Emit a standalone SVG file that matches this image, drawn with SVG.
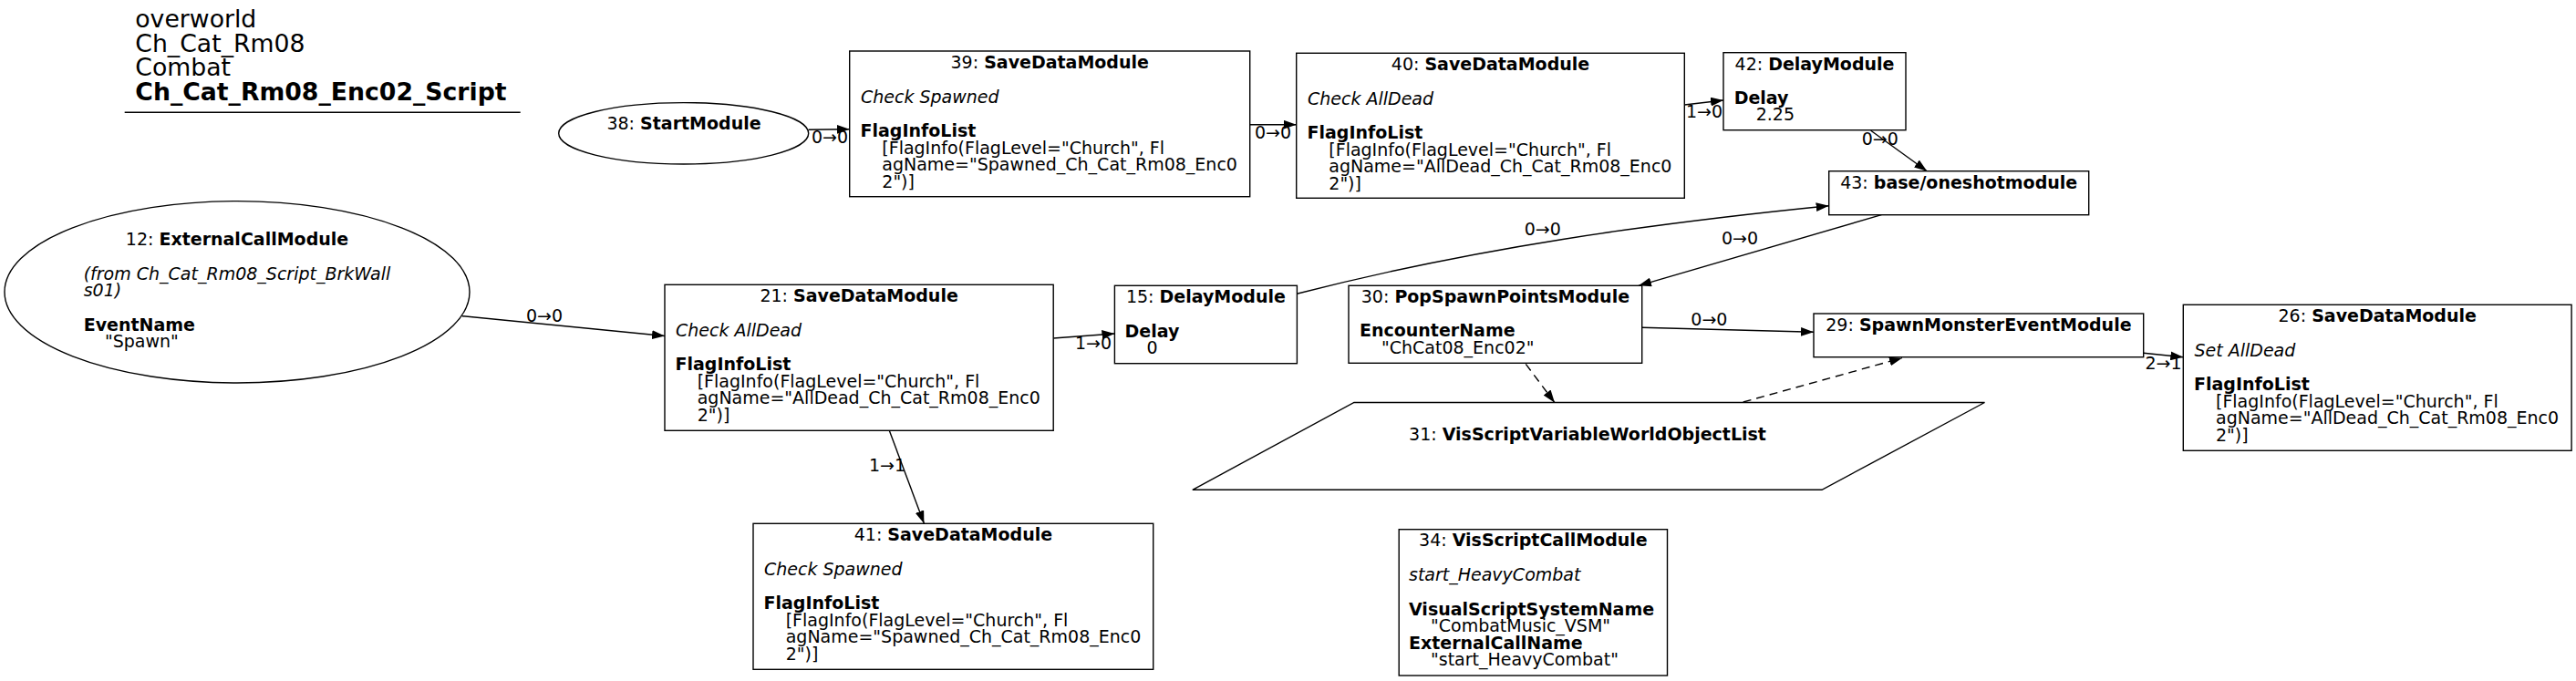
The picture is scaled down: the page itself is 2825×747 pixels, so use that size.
<svg xmlns="http://www.w3.org/2000/svg" width="2825" height="747" viewBox="0 0 2825 747">
<style>
text { font-family: "DejaVu Sans", "Liberation Sans", sans-serif; font-size: 19px; fill: #000; }
.title { font-size: 26.7px; }
.b { font-weight: bold; }
.i { font-style: italic; }
.shape { fill: #fff; stroke: #000; stroke-width: 1.4; }
.edge { fill: none; stroke: #000; stroke-width: 1.4; marker-end: url(#ah); }
.dash { stroke-dasharray: 9,6; }
</style>
<defs>
<marker id="ah" markerUnits="userSpaceOnUse" markerWidth="14" markerHeight="10" viewBox="0 0 13.6 9.6" refX="13.6" refY="4.8" orient="auto">
<path d="M0,0 L13.6,4.8 L0,9.6 z" fill="#000" stroke="none"/>
</marker>
</defs>
<rect x="0" y="0" width="2825" height="747" fill="#fff"/>

<g id="title">
<text class="title" x="148.3" y="30">overworld</text>
<text class="title" x="148.3" y="56.7">Ch_Cat_Rm08</text>
<text class="title" x="148.3" y="83.3">Combat</text>
<text class="title b" x="148.3" y="110">Ch_Cat_Rm08_Enc02_Script</text>
<path d="M136.7,123.3 L570.7,123.3" stroke="#000" stroke-width="1.5"/>
</g>

<g id="connectors">
<path class="edge" d="M886.7,142.3 L931.7,141.7"/>
<text x="890" y="156.7">0→0</text>
<path class="edge" d="M1370.7,136.7 L1421.7,136.7"/>
<text x="1376" y="152.3">0→0</text>
<path class="edge" d="M1847.3,115 L1890,110"/>
<text x="1849" y="128.5">1→0</text>
<path class="edge" d="M2051.7,143.3 L2113.3,187.7"/>
<text x="2041.7" y="159.3">0→0</text>
<path class="edge" d="M1422.2,322.3 C1617,272 1810.7,245.2 2005.7,225.7"/>
<text x="1671.7" y="258.3">0→0</text>
<path class="edge" d="M2063.3,235.7 L1797,313.3"/>
<text x="1888" y="268">0→0</text>
<path class="edge" d="M506.7,346.7 L729,368.5"/>
<text x="577" y="352.7">0→0</text>
<path class="edge" d="M1155.2,371 L1222.4,366"/>
<text x="1179" y="383.3">1→0</text>
<path class="edge" d="M975.3,472.3 L1013.4,574.3"/>
<text x="952.9" y="517.3">1→1</text>
<path class="edge" d="M1800.7,359.3 L1989,364.3"/>
<text x="1854.3" y="356.7">0→0</text>
<path class="edge dash" d="M1673.3,399.3 L1705,441.7"/>
<path class="edge dash" d="M1911.7,441 L2086,392.7"/>
<path class="edge" d="M2350.7,387.3 L2394.3,391.7"/>
<text x="2352.4" y="405">2→1</text>
</g>

<g id="node-38">
<ellipse class="shape" cx="749.7" cy="146.3" rx="137" ry="33.7"/>
<text x="750" y="142.3" text-anchor="middle">38: <tspan class="b">StartModule</tspan></text>
</g>

<g id="node-12">
<ellipse class="shape" cx="260" cy="320.3" rx="255" ry="99.7"/>
<text x="260" y="269" text-anchor="middle">12: <tspan class="b">ExternalCallModule</tspan></text>
<text class="i" x="91.7" y="307.3">(from Ch_Cat_Rm08_Script_BrkWall</text>
<text class="i" x="91.7" y="325.3">s01)</text>
<text class="b" x="91.7" y="362.7">EventName</text>
<text x="115" y="381">"Spawn"</text>
</g>

<g id="node-39">
<rect class="shape" x="931.7" y="56" width="439" height="159.7"/>
<text x="1151.2" y="74.7" text-anchor="middle">39: <tspan class="b">SaveDataModule</tspan></text>
<text class="i" x="944" y="112.7">Check Spawned</text>
<text class="b" x="943.5" y="150">FlagInfoList</text>
<text x="967.3" y="168.5">[FlagInfo(FlagLevel="Church", Fl</text>
<text x="967.3" y="187">agName="Spawned_Ch_Cat_Rm08_Enc0</text>
<text x="967.3" y="205.5">2")]</text>
</g>

<g id="node-40">
<rect class="shape" x="1421.7" y="58.3" width="425.6" height="159"/>
<text x="1634.5" y="77" text-anchor="middle">40: <tspan class="b">SaveDataModule</tspan></text>
<text class="i" x="1434" y="115">Check AllDead</text>
<text class="b" x="1433.5" y="152.3">FlagInfoList</text>
<text x="1457.3" y="170.8">[FlagInfo(FlagLevel="Church", Fl</text>
<text x="1457.3" y="189.3">agName="AllDead_Ch_Cat_Rm08_Enc0</text>
<text x="1457.3" y="207.8">2")]</text>
</g>

<g id="node-42">
<rect class="shape" x="1890" y="57.7" width="200" height="85"/>
<text x="1990" y="76.7" text-anchor="middle">42: <tspan class="b">DelayModule</tspan></text>
<text class="b" x="1901.7" y="114">Delay</text>
<text x="1925.7" y="132.3">2.25</text>
</g>

<g id="node-43">
<rect class="shape" x="2005.7" y="187.7" width="285" height="48"/>
<text x="2148.2" y="206.7" text-anchor="middle">43: <tspan class="b">base/oneshotmodule</tspan></text>
</g>

<g id="node-21">
<rect class="shape" x="729" y="312.3" width="426.2" height="160"/>
<text x="942.1" y="331" text-anchor="middle">21: <tspan class="b">SaveDataModule</tspan></text>
<text class="i" x="741" y="369">Check AllDead</text>
<text class="b" x="740.5" y="406.3">FlagInfoList</text>
<text x="764.7" y="424.8">[FlagInfo(FlagLevel="Church", Fl</text>
<text x="764.7" y="443.3">agName="AllDead_Ch_Cat_Rm08_Enc0</text>
<text x="764.7" y="461.8">2")]</text>
</g>

<g id="node-15">
<rect class="shape" x="1222.4" y="313.3" width="200" height="85.4"/>
<text x="1322.4" y="331.8" text-anchor="middle">15: <tspan class="b">DelayModule</tspan></text>
<text class="b" x="1233.5" y="369.5">Delay</text>
<text x="1257.5" y="387.8">0</text>
</g>

<g id="node-30">
<rect class="shape" x="1479" y="313.3" width="321.7" height="85"/>
<text x="1639.9" y="331.8" text-anchor="middle">30: <tspan class="b">PopSpawnPointsModule</tspan></text>
<text class="b" x="1491" y="369">EncounterName</text>
<text x="1515" y="387.5">"ChCat08_Enc02"</text>
</g>

<g id="node-31">
<polygon class="shape" points="1485,441.5 2176.5,441.5 1998,537.3 1307.8,537.3"/>
<text x="1741" y="483.3" text-anchor="middle">31: <tspan class="b">VisScriptVariableWorldObjectList</tspan></text>
</g>

<g id="node-29">
<rect class="shape" x="1989" y="344" width="361.7" height="47.7"/>
<text x="2169.9" y="362.7" text-anchor="middle">29: <tspan class="b">SpawnMonsterEventModule</tspan></text>
</g>

<g id="node-26">
<rect class="shape" x="2394.3" y="334.3" width="425.8" height="160"/>
<text x="2607.2" y="353" text-anchor="middle">26: <tspan class="b">SaveDataModule</tspan></text>
<text class="i" x="2406.5" y="391">Set AllDead</text>
<text class="b" x="2406" y="428.3">FlagInfoList</text>
<text x="2430" y="446.8">[FlagInfo(FlagLevel="Church", Fl</text>
<text x="2430" y="465.3">agName="AllDead_Ch_Cat_Rm08_Enc0</text>
<text x="2430" y="483.8">2")]</text>
</g>

<g id="node-41">
<rect class="shape" x="826" y="574.3" width="438.7" height="160"/>
<text x="1045.4" y="593" text-anchor="middle">41: <tspan class="b">SaveDataModule</tspan></text>
<text class="i" x="838" y="631">Check Spawned</text>
<text class="b" x="837.5" y="668.3">FlagInfoList</text>
<text x="861.7" y="686.8">[FlagInfo(FlagLevel="Church", Fl</text>
<text x="861.7" y="705.3">agName="Spawned_Ch_Cat_Rm08_Enc0</text>
<text x="861.7" y="723.8">2")]</text>
</g>

<g id="node-34">
<rect class="shape" x="1534.2" y="580.7" width="294.3" height="160.3"/>
<text x="1681.4" y="599.4" text-anchor="middle">34: <tspan class="b">VisScriptCallModule</tspan></text>
<text class="i" x="1545" y="637">start_HeavyCombat</text>
<text class="b" x="1545" y="674.5">VisualScriptSystemName</text>
<text x="1569" y="693">"CombatMusic_VSM"</text>
<text class="b" x="1545" y="711.5">ExternalCallName</text>
<text x="1569" y="730">"start_HeavyCombat"</text>
</g>
</svg>
